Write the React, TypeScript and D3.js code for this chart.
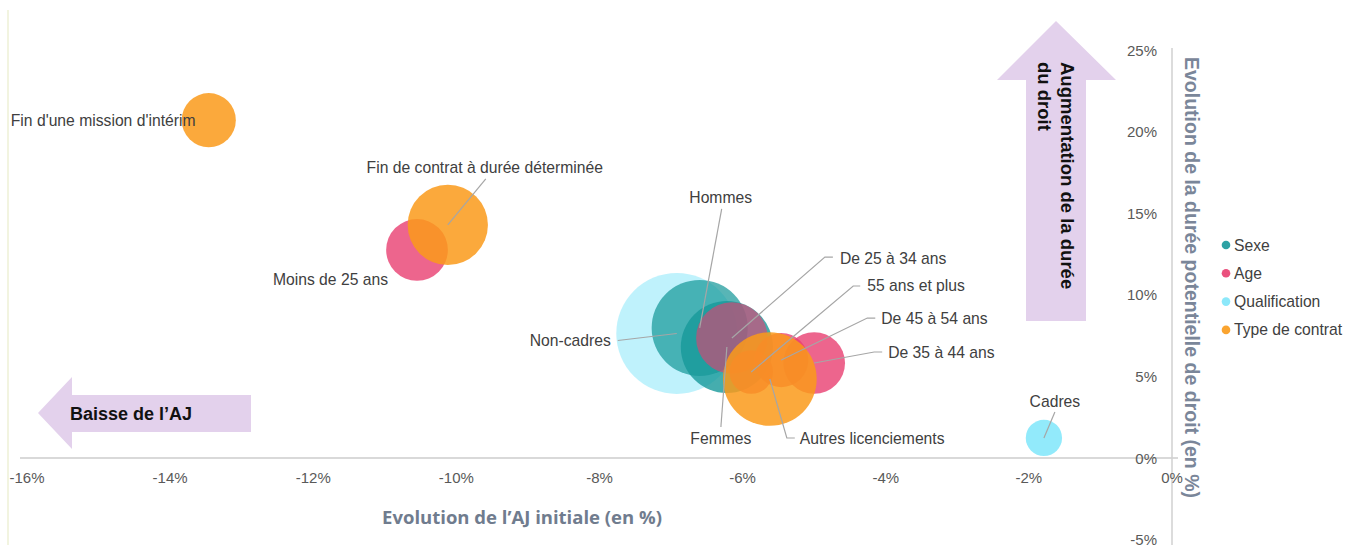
import React from 'react';
import * as d3 from 'd3';

// series and bubbles
const seriesNames = ['Sexe', 'Age', 'Qualification', 'Type de contrat'];
const drawOrder = ['Qualification', 'Sexe', 'Age', 'Type de contrat'];

const labels = [
  "Fin d'une mission d'intérim",
  'Fin de contrat à durée déterminée',
  'Autres licenciements',
  'Moins de 25 ans',
  'De 25 à 34 ans',
  'De 35 à 44 ans',
  'De 45 à 54 ans',
  '55 ans et plus',
  'Hommes',
  'Femmes',
  'Non-cadres',
  'Cadres',
];
const groups = [
  'Type de contrat', 'Type de contrat', 'Type de contrat',
  'Age', 'Age', 'Age', 'Age', 'Age',
  'Sexe', 'Sexe',
  'Qualification', 'Qualification',
];
const evolAJ = [-13.46, -10.12, -5.62, -10.55, -6.15, -5.0, -5.46, -5.88, -6.6, -6.22, -6.92, -1.79];
const evolDuree = [20.7, 14.28, 4.84, 12.75, 7.35, 5.82, 6.0, 5.27, 7.97, 6.8, 7.63, 1.23];
const sizes = [20, 44, 60, 26, 35, 26, 20, 13, 63, 58, 100, 9];

const xTicks = [-16, -14, -12, -10, -8, -6, -4, -2, 0];
const yTicks = [-5, 0, 5, 10, 15, 20, 25];

const colors: Record<string, string> = {
  Sexe: '#17989a',
  Age: '#e83e70',
  Qualification: '#7fe6fa',
  'Type de contrat': '#fa9a1a',
};
const opacity: Record<string, number> = {
  Sexe: 0.8,
  Age: 0.8,
  Qualification: 0.85,
  'Type de contrat': 0.85,
};
const opacityOverride: Record<string, number> = {
  'Non-cadres': 0.5,
  Hommes: 0.72,
  'De 25 à 34 ans': 0.6,
};

// label placement, offsets from bubble centre (px)
type Lab = { dx: number; dy: number; anchor: string; leader?: [number, number][] };
const labelPos: Record<string, Lab> = {
  "Fin d'une mission d'intérim": { dx: -198, dy: 0, anchor: 'start' },
  'Fin de contrat à durée déterminée': { dx: 37, dy: -57, anchor: 'middle', leader: [[38, -46]] },
  'Moins de 25 ans': { dx: -29, dy: 30, anchor: 'end' },
  Hommes: { dx: 21, dy: -130, anchor: 'middle', leader: [[22, -119]] },
  'Non-cadres': { dx: -66, dy: 7, anchor: 'end', leader: [[-59, 7]] },
  Femmes: { dx: -6, dy: 91, anchor: 'middle', leader: [[-6, 80]] },
  'Autres licenciements': { dx: 30, dy: 59, anchor: 'start', leader: [[25, 59], [17, 59]] },
  'De 25 à 34 ans': { dx: 108, dy: -80, anchor: 'start', leader: [[101, -81], [93, -81]] },
  '55 ans et plus': { dx: 116, dy: -86, anchor: 'start', leader: [[109, -86], [102, -86]] },
  'De 45 à 54 ans': { dx: 100, dy: -42, anchor: 'start', leader: [[94, -42], [86, -42]] },
  'De 35 à 44 ans': { dx: 74, dy: -11, anchor: 'start', leader: [[68, -11], [60, -11]] },
  Cadres: { dx: 11, dy: -36, anchor: 'middle', leader: [[11, -26]] },
};

const FONT = "'Liberation Sans', Arial, sans-serif";
const W = 1346;
const H = 545;

export default function App() {
  const x = d3.scaleLinear().domain([-16, 0]).range([27, 1172]);
  const y = d3.scaleLinear().domain([-5, 25]).range([539.6, 50]);
  const r = d3.scaleSqrt().domain([0, d3.max(sizes) as number]).range([0, 60.5]);

  const points = labels.map((name, i) => ({
    name,
    group: groups[i],
    cx: x(evolAJ[i]),
    cy: y(evolDuree[i]),
    r: r(sizes[i]),
  }));
  const ordered = drawOrder.flatMap((g) => points.filter((p) => p.group === g));
  const line = d3.line();

  const upArrow: [number, number][] = [
    [1056, 21], [1116, 80], [1086, 80], [1086, 321], [1026, 321], [1026, 80], [997, 80],
  ];
  const leftArrow: [number, number][] = [
    [38, 413], [72, 377], [72, 395], [251, 395], [251, 432], [72, 432], [72, 449],
  ];

  return (
    <svg
      width={W}
      height={H}
      style={{ position: 'absolute', left: 0, top: 0, background: '#fff' }}
      fontFamily={FONT}
    >
      <line x1={8} x2={8} y1={10} y2={H} stroke="#eef1d6" strokeWidth={1.5} />

      {/* arrows */}
      <path d={line(upArrow) + 'Z'} fill="#e3d1ec" />
      <path d={line(leftArrow) + 'Z'} fill="#e3d1ec" />
      <text x={70} y={420} fontSize={18} fontWeight="bold" fill="#111">Baisse de l’AJ</text>
      <g transform="translate(1067,62) rotate(90)">
        <text fontSize={18.5} fontWeight="bold" fill="#111" dominantBaseline="central">
          Augmentation de la durée
        </text>
        <text y={23} fontSize={18.5} fontWeight="bold" fill="#111" dominantBaseline="central">
          du droit
        </text>
      </g>

      {/* axes */}
      <line x1={20} x2={1178} y1={y(0)} y2={y(0)} stroke="#d9d9d9" strokeWidth={2} />
      <line x1={x(0)} x2={x(0)} y1={48} y2={H} stroke="#d0d0d0" strokeWidth={1.5} />
      {xTicks.map((t) => (
        <text key={'x' + t} x={x(t)} y={483} fontSize={15} fill="#595959" textAnchor="middle">
          {t + '%'}
        </text>
      ))}
      {yTicks.map((t) => (
        <text
          key={'y' + t}
          x={1157}
          y={y(t)}
          fontSize={15}
          fill="#595959"
          textAnchor="end"
          dominantBaseline="central"
        >
          {t + '%'}
        </text>
      ))}
      <text
        x={522}
        y={516}
        fontSize={18.5}
        fontWeight="bold"
        fill="#707c8e"
        textAnchor="middle"
        dominantBaseline="central"
        fontFamily="'Open Sans', sans-serif"
      >
        Evolution de l’AJ initiale (en %)
      </text>
      <text
        transform="translate(1192,57) rotate(90)"
        fontSize={19.5}
        fontWeight="bold"
        fill="#7a8699"
        dominantBaseline="central"
      >
        Evolution de la durée potentielle de droit (en %)
      </text>

      {/* bubbles */}
      {ordered.map((p) => (
        <circle
          key={p.name}
          cx={p.cx}
          cy={p.cy}
          r={p.r}
          fill={colors[p.group]}
          fillOpacity={opacityOverride[p.name] ?? opacity[p.group]}
        />
      ))}

      {/* leaders and labels */}
      {points.map((p) => {
        const lp = labelPos[p.name];
        if (!lp.leader) return null;
        const pts: [number, number][] = lp.leader.map(([a, b]) => [p.cx + a, p.cy + b]);
        pts.push([p.cx, p.cy]);
        return <path key={'l' + p.name} d={line(pts) as string} fill="none" stroke="#a6a6a6" strokeWidth={1.2} />;
      })}
      {points.map((p) => {
        const lp = labelPos[p.name];
        return (
          <text
            key={'t' + p.name}
            x={p.cx + lp.dx}
            y={p.cy + lp.dy}
            fontSize={15.7}
            fill="#404040"
            textAnchor={lp.anchor}
            dominantBaseline="central"
          >
            {p.name}
          </text>
        );
      })}

      {/* legend */}
      {seriesNames.map((s, i) => (
        <g key={s} transform={`translate(1226,${245 + i * 28.3})`}>
          <circle r={4.3} fill={colors[s]} fillOpacity={0.9} />
          <text x={8} fontSize={15.7} fill="#404040" dominantBaseline="central">{s}</text>
        </g>
      ))}
    </svg>
  );
}
